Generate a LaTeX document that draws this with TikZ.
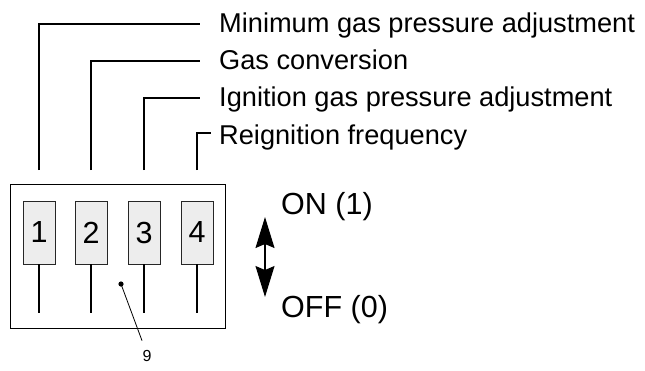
\documentclass[tikz,border=0pt]{standalone}
\usepackage{fontspec}
\setmainfont{Liberation Sans}
\usetikzlibrary{arrows.meta}
\begin{document}
\begin{tikzpicture}[x=1pt,y=-1pt,
  lead/.style={line width=1.4pt},
  lbl/.style={anchor=base west,inner sep=0pt,font=\fontsize{27.2}{30}\selectfont},
  swbox/.style={draw=black!85,line width=0.9pt,fill=black!7,minimum width=32pt,minimum height=63pt,inner sep=0pt,font=\fontsize{30.5}{32}\selectfont},
  lever/.style={line width=1.4pt},
  state/.style={anchor=base west,inner sep=0pt,font=\fontsize{30.5}{32}\selectfont},
  bigtip/.tip={Stealth[length=31pt,width=19pt,inset=4pt]}]
\useasboundingbox (0,0) rectangle (645,370);
% housing
\node[draw,line width=0.9pt,minimum width=215pt,minimum height=144pt,inner sep=0pt] (box) at (117.5,256.5) {};
% switches
\node[swbox] (s1) at (39,232.5) {1};
\node[swbox] (s2) at (91,232.5) {2};
\node[swbox] (s3) at (144,232.5) {3};
\node[swbox] (s4) at (197,232.5) {4};
\foreach \i in {1,...,4} \draw[lever] (s\i.south) -- ++(0,49);
% labels
\node[lbl] (l1) at (219,32.5) {Minimum gas pressure adjustment};
\node[lbl] (l2) at (219,69) {Gas conversion};
\node[lbl] (l3) at (219,106) {Ignition gas pressure adjustment};
\node[lbl] (l4) at (219,144) {Reignition frequency};
\coordinate (t1) at (39,170);
\coordinate (t2) at (91,170);
\coordinate (t3) at (144,170);
\coordinate (t4) at (197,170);
\draw[lead] (t1) |- ([xshift=-19pt,yshift=8.5pt]l1.base west);
\draw[lead] (t2) |- ([xshift=-19pt,yshift=8pt]l2.base west);
\draw[lead] (t3) |- ([xshift=-19pt,yshift=8pt]l3.base west);
\draw[lead] (t4) |- ([xshift=-8pt,yshift=11pt]l4.base west);
% ON / OFF
\node[state] (on) at (281,214) {ON (1)};
\node[state] (off) at (281,317) {OFF (0)};
\coordinate (aT) at (265,217);
\coordinate (aB) at (265,297);
\draw[line width=1.2pt,bigtip-bigtip] (aT) -- (aB);
% item 9
\coordinate (d9) at (121,284);
\fill (d9) circle (2.6);
\node[inner sep=0pt,font=\fontsize{16}{17}\selectfont] (n9) at (147,355.5) {9};
\draw[line width=0.8pt] (d9) -- ([xshift=-5pt,yshift=9pt]n9.north);
\end{tikzpicture}
\end{document}
